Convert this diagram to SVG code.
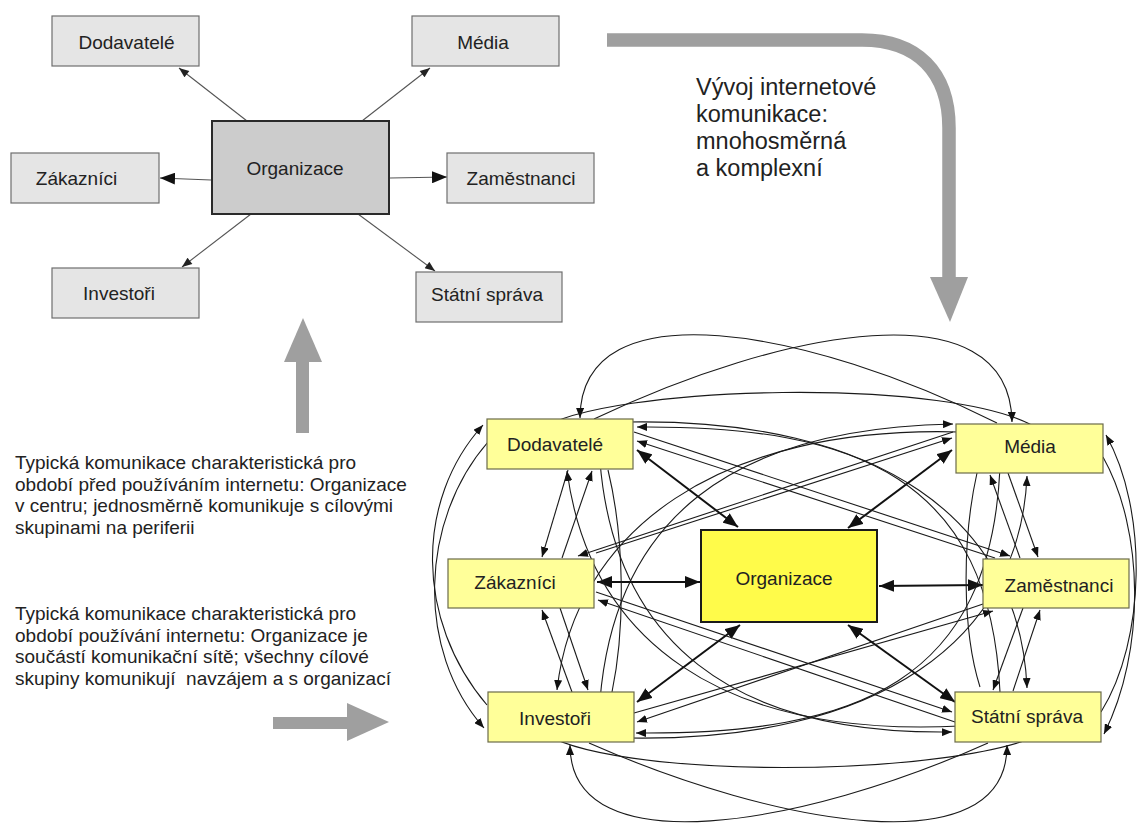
<svg xmlns="http://www.w3.org/2000/svg" width="1138" height="824" viewBox="0 0 1138 824">
  <defs>
    <style>
      .lbl { font-family: "Liberation Sans", Arial, sans-serif; font-size: 19px; fill: #222; text-anchor: middle; }
      .note { font-family: "Liberation Sans", Arial, sans-serif; font-size: 19px; fill: #222; }
      .big { font-family: "Liberation Sans", Arial, sans-serif; font-size: 23.5px; fill: #222; }
      .gbox { fill: #e5e5e5; stroke: #6e6e6e; stroke-width: 1.2; }
      .gorg { fill: #cccccc; stroke: #2a2a2a; stroke-width: 2; }
      .ybox { fill: #ffff99; stroke: #6b6b4a; stroke-width: 1.2; }
      .yorg { fill: #fffb4a; stroke: #1a1a1a; stroke-width: 2; }
      .gl { fill: none; stroke: #555; stroke-width: 1.1; }
      .thin { fill: none; stroke: #1a1a1a; stroke-width: 1.1; }
      .thick { fill: none; stroke: #111; stroke-width: 2; }
      .flow { fill: #9f9f9f; }
    </style>
    <marker id="ah" viewBox="0 0 10 8" refX="10" refY="4" markerWidth="10" markerHeight="8" markerUnits="userSpaceOnUse" orient="auto-start-reverse">
      <path d="M0,0 L10,4 L0,8 z" fill="#111"/>
    </marker>
    <marker id="ahb" viewBox="0 0 10 8" refX="10" refY="4" markerWidth="15" markerHeight="12" markerUnits="userSpaceOnUse" orient="auto-start-reverse">
      <path d="M0,0 L10,4 L0,8 z" fill="#111"/>
    </marker>
    <marker id="ahg" viewBox="0 0 10 8" refX="10" refY="4" markerWidth="11" markerHeight="8" markerUnits="userSpaceOnUse" orient="auto">
      <path d="M0,0 L10,4 L0,8 z" fill="#222"/>
    </marker>
    <marker id="ahgl" viewBox="0 0 10 8" refX="10" refY="4" markerWidth="15" markerHeight="12" markerUnits="userSpaceOnUse" orient="auto">
      <path d="M0,0 L10,4 L0,8 z" fill="#111"/>
    </marker>
  </defs>

  <rect width="1138" height="824" fill="#ffffff"/>

  <!-- Pre-internet model: one-way links from the centre -->
  <g id="old-connectors">
    <line class="gl" x1="247" y1="121" x2="179" y2="68" marker-end="url(#ahg)"/>
    <line class="gl" x1="362" y1="121" x2="430" y2="68" marker-end="url(#ahg)"/>
    <line class="gl" x1="211" y1="180" x2="160" y2="178" marker-end="url(#ahgl)"/>
    <line class="gl" x1="390" y1="178" x2="447" y2="177" marker-end="url(#ahgl)"/>
    <line class="gl" x1="251" y1="214" x2="182" y2="267" marker-end="url(#ahg)"/>
    <line class="gl" x1="358" y1="214" x2="435" y2="271" marker-end="url(#ahg)"/>
  </g>

  <g id="old-dodavatele"><rect class="gbox" x="52" y="16" width="147" height="50"/><text class="lbl" x="126.5" y="49">Dodavatelé</text></g>
  <g id="old-media"><rect class="gbox" x="412" y="16" width="147" height="50"/><text class="lbl" x="483" y="49">Média</text></g>
  <g id="old-zakaznici"><rect class="gbox" x="11" y="153" width="148" height="50"/><text class="lbl" x="76.5" y="185">Zákazníci</text></g>
  <g id="old-organizace"><rect class="gorg" x="212" y="121" width="177" height="93"/><text class="lbl" x="295" y="175">Organizace</text></g>
  <g id="old-zamestnanci"><rect class="gbox" x="447" y="153" width="147" height="50"/><text class="lbl" x="521" y="185">Zaměstnanci</text></g>
  <g id="old-investori"><rect class="gbox" x="52" y="268" width="147" height="50"/><text class="lbl" x="119" y="300">Investoři</text></g>
  <g id="old-statni"><rect class="gbox" x="416" y="272" width="146" height="50"/><text class="lbl" x="487" y="301">Státní správa</text></g>

  <!-- Grey transition arrows -->
  <g id="transition-arrows">
    <path d="M607,40 L862,40 C917,40 949,72 949,128 L949,280" fill="none" stroke="#9f9f9f" stroke-width="13.5"/>
    <polygon class="flow" points="930,277 968,277 950,322"/>
    <rect class="flow" x="296" y="360" width="13" height="73"/>
    <polygon class="flow" points="284,362 322,362 303,318"/>
    <rect class="flow" x="273" y="717" width="76" height="12"/>
    <polygon class="flow" points="347,703 347,741 389,722"/>
  </g>

  <g id="captions">
    <text class="big" x="696" y="95">Vývoj internetové</text>
    <text class="big" x="696" y="122">komunikace:</text>
    <text class="big" x="696" y="149">mnohosměrná</text>
    <text class="big" x="696" y="176">a komplexní</text>

    <text class="note" x="15" y="469">Typická komunikace charakteristická pro</text>
    <text class="note" x="15" y="490.7">období před používáním internetu: Organizace</text>
    <text class="note" x="15" y="512.3">v centru; jednosměrně komunikuje s cílovými</text>
    <text class="note" x="15" y="534">skupinami na periferii</text>

    <text class="note" x="15" y="620">Typická komunikace charakteristická pro</text>
    <text class="note" x="15" y="641.7">období používání internetu: Organizace je</text>
    <text class="note" x="15" y="663.3">součástí komunikační sítě; všechny cílové</text>
    <text class="note" x="15" y="685" xml:space="preserve">skupiny komunikují  navzájem a s organizací</text>
  </g>

  <!-- Internet model: every group linked with every other -->
  <g id="net-connectors">
    <!-- centre links, both directions -->
    <line class="thick" x1="637" y1="450" x2="738" y2="527" marker-start="url(#ahb)" marker-end="url(#ahb)"/>
    <line class="thick" x1="952" y1="450" x2="848" y2="528" marker-start="url(#ahb)" marker-end="url(#ahb)"/>
    <line class="thick" x1="597" y1="582" x2="700" y2="582" marker-start="url(#ahb)" marker-end="url(#ahb)"/>
    <line class="thick" x1="879" y1="586" x2="983" y2="585" marker-start="url(#ahb)" marker-end="url(#ahb)"/>
    <line class="thick" x1="740" y1="625" x2="637" y2="702" marker-start="url(#ahb)" marker-end="url(#ahb)"/>
    <line class="thick" x1="848" y1="625" x2="955" y2="702" marker-start="url(#ahb)" marker-end="url(#ahb)"/>

    <!-- neighbours -->
    <line class="thin" x1="568" y1="470" x2="542" y2="557" marker-end="url(#ah)"/>
    <line class="thin" x1="562" y1="558" x2="592" y2="471" marker-end="url(#ah)"/>
    <line class="thin" x1="572" y1="692" x2="542" y2="610" marker-end="url(#ah)"/>
    <line class="thin" x1="560" y1="608" x2="588" y2="690" marker-end="url(#ah)"/>
    <line class="thin" x1="1020" y1="558" x2="990" y2="475" marker-end="url(#ah)"/>
    <line class="thin" x1="1008" y1="473" x2="1038" y2="557" marker-end="url(#ah)"/>
    <line class="thin" x1="1013" y1="691" x2="1040" y2="610" marker-end="url(#ah)"/>
    <line class="thin" x1="1023" y1="608" x2="993" y2="690" marker-end="url(#ah)"/>

    <!-- long diagonals -->
    <line class="thin" x1="953" y1="432" x2="578" y2="556" marker-end="url(#ah)"/>
    <line class="thin" x1="596" y1="553" x2="952" y2="438" marker-end="url(#ah)"/>
    <line class="thin" x1="634" y1="432" x2="1010" y2="556" marker-end="url(#ah)"/>
    <line class="thin" x1="995" y1="558" x2="637" y2="441" marker-end="url(#ah)"/>
    <line class="thin" x1="596" y1="592" x2="952" y2="712" marker-end="url(#ah)"/>
    <line class="thin" x1="955" y1="722" x2="598" y2="600" marker-end="url(#ah)"/>
    <line class="thin" x1="983" y1="604" x2="637" y2="722" marker-end="url(#ah)"/>
    <line class="thin" x1="634" y1="713" x2="993" y2="611" marker-end="url(#ah)"/>

    <!-- outer arcs -->
    <path class="thin" d="M594,419 C780,330 1010,285 1012,422" marker-end="url(#ah)"/>
    <path class="thin" d="M997,423 C811,330 581,285 580,418" marker-end="url(#ah)"/>
    <path class="thin" d="M540,430 C600,385 960,375 1040,430"/>
    <path class="thin" d="M540,730 C600,780 960,780 1050,730"/>
    <path class="thin" d="M589,743 C775,825 1008,868 1007,745" marker-end="url(#ah)"/>
    <path class="thin" d="M988,743 C805,825 570,868 570,745" marker-end="url(#ah)"/>
    <path class="thin" d="M487,705 C415,620 415,500 483,425" marker-end="url(#ah)"/>
    <path class="thin" d="M488,442 C420,520 415,650 484,728" marker-end="url(#ah)"/>
    <path class="thin" d="M1101,712 C1146,640 1148,510 1106,435" marker-end="url(#ah)"/>
    <path class="thin" d="M1103,457 C1144,530 1146,650 1104,734" marker-end="url(#ah)"/>

    <!-- inner sweeping arcs around the centre -->
    <path class="thin" d="M608,470 C625,540 625,630 612,692"/>
    <path class="thin" d="M977,473 C962,540 962,630 980,687"/>
    <path class="thin" d="M1000,692 C990,480 860,425 637,427" marker-end="url(#ah)"/>
    <path class="thin" d="M628,422 C880,418 1020,520 1027,688" marker-end="url(#ah)"/>
    <path class="thin" d="M960,432 C720,425 575,530 557,690" marker-end="url(#ah)"/>
    <path class="thin" d="M600,700 C615,520 730,428 953,424" marker-end="url(#ah)"/>
    <path class="thin" d="M1000,468 C990,680 860,735 636,733" marker-end="url(#ah)"/>
    <path class="thin" d="M628,738 C880,742 1020,640 1027,476" marker-end="url(#ah)"/>
    <path class="thin" d="M960,726 C720,738 590,640 567,471" marker-end="url(#ah)"/>
    <path class="thin" d="M600,462 C615,640 730,735 952,732" marker-end="url(#ah)"/>
  </g>

  <g id="net-dodavatele"><rect class="ybox" x="487" y="419" width="146" height="50"/><text class="lbl" x="555" y="451">Dodavatelé</text></g>
  <g id="net-media"><rect class="ybox" x="956" y="424" width="147" height="49"/><text class="lbl" x="1030" y="453">Média</text></g>
  <g id="net-zakaznici"><rect class="ybox" x="448" y="559" width="146" height="49"/><text class="lbl" x="515" y="589">Zákazníci</text></g>
  <g id="net-organizace"><rect class="yorg" x="701" y="530" width="176" height="92"/><text class="lbl" x="784" y="585">Organizace</text></g>
  <g id="net-zamestnanci"><rect class="ybox" x="983" y="559" width="146" height="49"/><text class="lbl" x="1059" y="592">Zaměstnanci</text></g>
  <g id="net-investori"><rect class="ybox" x="488" y="692" width="146" height="50"/><text class="lbl" x="555" y="725">Investoři</text></g>
  <g id="net-statni"><rect class="ybox" x="955" y="692" width="146" height="50"/><text class="lbl" x="1027" y="723">Státní správa</text></g>
</svg>
